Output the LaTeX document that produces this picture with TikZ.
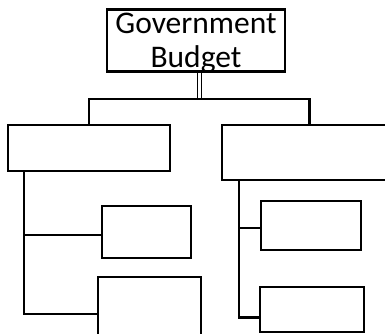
\documentclass[tikz,border=0pt]{standalone}
\usepackage{fontspec}
\setmainfont{Carlito}
\usetikzlibrary{calc}
\begin{document}
\begin{tikzpicture}[x=1pt,y=-1pt,
  box/.style={draw=black, line width=2.7pt, inner sep=0pt, fill=white},
  conn/.style={draw=black, line width=2.7pt},
  twin/.style={draw=black, line width=1.6pt, double=white, double distance=2.6pt}]
\useasboundingbox (0,0) rectangle (385,333);
\begin{scope}
\clip (0,0) rectangle (385,333);
\node[box, minimum width=178pt, minimum height=62pt, align=center,
      font=\fontsize{31.5}{33.5}\selectfont, text depth=0pt] (top) at (196,40.5) {Government\\Budget};
\node[box, minimum width=162pt, minimum height=46pt] (L) at (89,148) {};
\node[box, minimum width=175pt, minimum height=55pt] (R) at (309.5,152.5) {};
\node[box, minimum width=89pt, minimum height=52pt] (B1) at (146.5,232) {};
\node[box, minimum width=103pt, minimum height=68pt] (B2) at (149.5,311) {};
\node[box, minimum width=100pt, minimum height=49pt] (B3) at (311,225.5) {};
\node[box, minimum width=104pt, minimum height=45pt] (B4) at (312,309.5) {};
\coordinate (bar) at (199.5,99);
\coordinate (lx) at (24,0);
\coordinate (rx) at (239,0);
\draw[twin] (top.south -| bar) -- (bar);
\draw[conn] (L.north) |- (bar) -| (R.north);
\draw[conn] (L.south -| lx) |- ($(B1.west)+(0,3)$);
\draw[conn] (L.south -| lx) |- ($(B2.west)+(0,3)$);
\draw[conn] (R.south -| rx) |- ($(B3.west)+(0,2.5)$);
\draw[conn] (R.south -| rx) |- ($(B4.west)+(0,8)$);
\end{scope}
\end{tikzpicture}
\end{document}
